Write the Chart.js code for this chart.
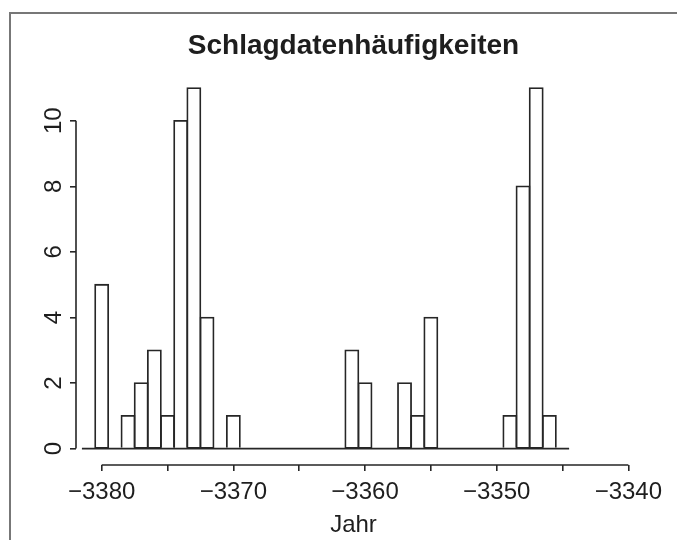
<!DOCTYPE html>
<html><head><meta charset="utf-8">
<script src="https://cdn.jsdelivr.net/npm/chart.js@4.4.1/dist/chart.umd.min.js"></script>
<style>
html,body{margin:0;padding:0;background:#fff;}
#wrap{position:relative;width:677px;height:540px;overflow:hidden;background:#fff;}
#frame{position:absolute;left:9px;top:12px;width:800px;height:800px;border-top:2px solid #777;border-left:2px solid #777;}
canvas{position:absolute;left:0;top:0;}
</style></head><body>
<div id="wrap"><div id="frame"></div><canvas id="c" width="677" height="540"></canvas></div>
<script>
// ---- data ----
const years  = [-3380,-3378,-3377,-3376,-3375,-3374,-3373,-3372,-3370,-3361,-3360,-3357,-3356,-3355,-3349,-3348,-3347,-3346];
const counts = [5,1,2,3,1,10,11,4,1,3,2,2,1,4,1,8,11,1];
const baselineRange = [-3381.5, -3344.5];
const xTickValues = [-3380,-3375,-3370,-3365,-3360,-3355,-3350,-3345,-3340];
const yTickValues = [0,2,4,6,8,10];
const titleText = 'Schlagdatenhäufigkeiten';
const xAxisTitle = 'Jahr';

const INK = '#262626';
const TXT = '#1e1e1e';
const FAMILY = '"Liberation Sans", Arial, Helvetica, sans-serif';
Chart.defaults.font.family = FAMILY;

const rAxes = {
  id: 'rAxes',
  afterDraw(chart) {
    const {ctx, chartArea, scales: {x, y}} = chart;
    ctx.save();
    ctx.strokeStyle = INK;
    ctx.lineWidth = 1.6;
    ctx.beginPath();
    ctx.moveTo(x.getPixelForValue(xTickValues[0]), chartArea.bottom);
    ctx.lineTo(x.getPixelForValue(xTickValues[xTickValues.length - 1]), chartArea.bottom);
    ctx.moveTo(chartArea.left, y.getPixelForValue(yTickValues[0]));
    ctx.lineTo(chartArea.left, y.getPixelForValue(yTickValues[yTickValues.length - 1]));
    ctx.stroke();
    ctx.restore();
  }
};

new Chart(document.getElementById('c'), {
  type: 'bar',
  data: {
    datasets: [
      {
        type: 'bar',
        order: 1,
        data: years.map((x, i) => ({x, y: counts[i]})),
        backgroundColor: 'rgba(0,0,0,0)',
        borderColor: INK,
        borderWidth: 0.1,
        inflateAmount: 0.85,
        borderSkipped: 'start',
        barPercentage: 1,
        categoryPercentage: 1
      },
      {
        type: 'line',
        order: 0,
        data: baselineRange.map(x => ({x, y: 0})),
        borderColor: INK,
        borderWidth: 1.7,
        pointRadius: 0,
        fill: false
      }
    ]
  },
  options: {
    responsive: false,
    animation: false,
    devicePixelRatio: 1,
    layout: {padding: {left: 0, right: 46, top: 0, bottom: 0}},
    plugins: {
      legend: {display: false},
      tooltip: {enabled: false},
      title: {
        display: true,
        text: titleText,
        fullSize: false,
        color: TXT,
        font: {size: 28, weight: 'bold'},
        padding: {top: 29, bottom: 9}
      }
    },
    scales: {
      x: {
        type: 'linear',
        position: 'bottom',
        min: -3381.95,
        max: -3339.8,
        offset: false,
        afterBuildTicks: s => { s.ticks = xTickValues.map(v => ({value: v})); },
        afterFit: s => { s.height = 75; },
        ticks: {
          autoSkip: false,
          maxRotation: 0,
          minRotation: 0,
          padding: 7,
          color: TXT,
          font: {size: 24},
          callback: v => (v % 10 === 0 ? '\u2212' + Math.abs(v) : '')
        },
        grid: {offset: false, drawOnChartArea: false, drawTicks: true, tickLength: 6, color: INK, lineWidth: 1.6},
        border: {display: false},
        title: {display: true, text: xAxisTitle, color: TXT, font: {size: 24}, padding: 0}
      },
      y: {
        type: 'linear',
        min: -0.5,
        max: 11.5,
        afterBuildTicks: s => { s.ticks = yTickValues.map(v => ({value: v})); },
        afterFit: s => { s.width = 76; },
        ticks: {
          minRotation: 90,
          maxRotation: 90,
          crossAlign: 'center',
          padding: 2,
          color: TXT,
          font: {size: 24},
          callback: v => String(v)
        },
        grid: {drawOnChartArea: false, drawTicks: true, tickLength: 6, color: INK, lineWidth: 1.6},
        border: {display: false}
      }
    }
  },
  plugins: [rAxes]
});
</script>
</body></html>
